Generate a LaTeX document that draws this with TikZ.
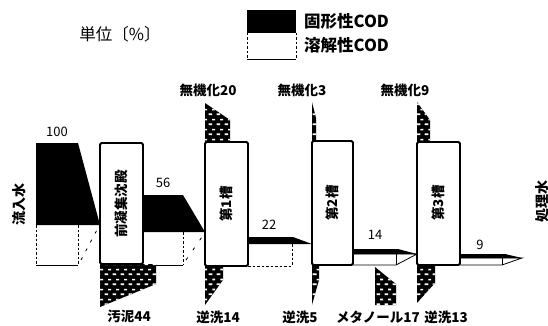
\documentclass[tikz,border=0pt]{standalone}
\usepackage{fontspec}
\newfontfamily\cjk{Noto Sans CJK JP}
\usetikzlibrary{patterns.meta}
\tikzdeclarepattern{
  name=wdash,
  type=uncolored,
  bounding box={(0pt,0pt) and (8pt,10pt)},
  tile size={(8pt,10pt)},
  code={
    \fill (0.6pt,1pt) rectangle (4.6pt,2.8pt);
    \fill (4.6pt,6pt) rectangle (7.8pt,7.8pt);
  }
}
\begin{document}
\begin{tikzpicture}[x=1pt,y=-1pt,
  box/.style={draw, fill=white, line width=1.8pt, rounded corners=1.5pt},
  blk/.style={fill=black},
  dotted fill/.style={preaction={fill=black}, pattern=wdash, pattern color=white},
  wline/.style={line width=0.8pt},
  wdash/.style={line width=0.8pt, dash pattern=on 2.5pt off 2pt},
  lab/.style={font=\cjk\bfseries\fontsize{13.5}{15}\selectfont, inner sep=0pt},
  num/.style={font=\cjk\fontsize{13}{15}\selectfont, inner sep=0pt},
  boxtxt/.style={font=\cjk\bfseries\fontsize{13.5}{15}\selectfont, inner sep=0pt, rotate=90},
  sidetxt/.style={font=\cjk\bfseries\fontsize{14}{16}\selectfont, inner sep=0pt, rotate=90},
  legtxt/.style={font=\cjk\bfseries\fontsize{16.5}{18}\selectfont, inner sep=0pt, anchor=west}
]
\useasboundingbox (0,0) rectangle (548,326);

% ---------- legend ----------
\fill[black] (247,10) rectangle (296,33);
\draw[wdash] (247,33) -- (247,59);
\draw[wdash] (296,33) -- (296,59);
\draw[wline] (247,59) -- (296,59);
\node[font=\cjk\fontsize{16.5}{18}\selectfont, inner sep=0pt] (unit) at (120,34) {単位〔\%〕};
\node[legtxt] (lsolid) at (304,21) {固形性COD};
\node[legtxt] (ldiss) at (304,45) {溶解性COD};

% ---------- flow 100 ----------
\fill[blk] (36,143) -- (78,143) -- (100,225) -- (36,225) -- cycle;
\draw[wdash] (36,225) -- (36,265);
\draw[wline] (36,265) -- (78,265);
\draw[wdash] (78,225) -- (78,265);
\draw[line width=0.8pt, dash pattern=on 3pt off 7pt] (81,260) -- (99,226);

% ---------- flow 56 ----------
\fill[blk] (143,195) -- (183,195) -- (205,232) -- (143,232) -- cycle;
\draw[wline] (143,265) -- (183,265);
\draw[wdash] (183,232) -- (183,265);
\draw[line width=0.8pt, dash pattern=on 3pt off 9pt] (186,260) -- (204,234);

% ---------- flow 22 ----------
\fill[blk] (248,237) -- (293,237) -- (312,244) -- (248,244) -- cycle;
\draw[wdash] (248,266) -- (292,266);
\draw[wdash] (292,244) -- (292,266);

% ---------- flow 14 ----------
\fill[blk] (353,249) -- (398,249) -- (417,254) -- (353,254) -- cycle;
\draw[wline] (353,254) -- (417,254) -- (396,265) -- (353,265);
\draw[wline] (396,254) -- (396,265);

% ---------- flow 9 ----------
\fill[blk] (460,254) -- (505,254) -- (522,258) -- (460,258) -- cycle;
\draw[wline] (460,258) -- (522,258) -- (502,265) -- (460,265);
\draw[wline] (502,258) -- (502,265);

% ---------- patterned flows ----------
\fill[dotted fill] (205,103) -- (230,120) -- (230,142) -- (205,142) -- cycle;
\fill[dotted fill] (312,102) -- (316,118) -- (316,141) -- (312,141) -- cycle;
\fill[dotted fill] (417,102) -- (430,120) -- (430,142) -- (417,142) -- cycle;
\fill[dotted fill] (100,264) -- (156,264) -- (156,284) -- (100,307) -- cycle;
\fill[dotted fill] (205,266) -- (223,266) -- (223,280) -- (205,305) -- cycle;
\fill[dotted fill] (312,265) -- (319,265) -- (319,280) -- (312,305) -- cycle;
\fill[dotted fill] (375,267) -- (396,284) -- (396,305) -- (375,305) -- cycle;
\fill[dotted fill] (417,265) -- (435,265) -- (435,283) -- (417,303) -- cycle;

% ---------- process boxes ----------
\draw[box] (100,143) rectangle (143,264);
\draw[box] (205,142) rectangle (248,266);
\draw[box] (312,141) rectangle (353,265);
\draw[box] (417,142) rectangle (460,265);
\node[boxtxt] (pre) at (121.5,204) {前凝集沈殿};
\node[boxtxt] (t1) at (226.5,204) {第1槽};
\node[boxtxt] (t2) at (332.5,203) {第2槽};
\node[boxtxt] (t3) at (438.5,203) {第3槽};

% ---------- labels ----------
\node[sidetxt] (in) at (19,204) {流入水};
\node[sidetxt] (out) at (542,201) {処理水};
\node[num] (v100) at (57,132) {100};
\node[num] (v56) at (163,183) {56};
\node[num] (v22) at (269,225) {22};
\node[num] (v14) at (375,235) {14};
\node[num] (v9) at (480,245) {9};
\node[lab] (m20) at (208,90) {無機化20};
\node[lab] (m3) at (302,90) {無機化3};
\node[lab] (m9) at (405,90) {無機化9};
\node[lab] (s44) at (129,316) {汚泥44};
\node[lab] (b14) at (218,317) {逆洗14};
\node[lab] (b5) at (300,317) {逆洗5};
\node[lab] (me17) at (378,317) {メタノール17};
\node[lab] (b13) at (446,317) {逆洗13};
\end{tikzpicture}
\end{document}
